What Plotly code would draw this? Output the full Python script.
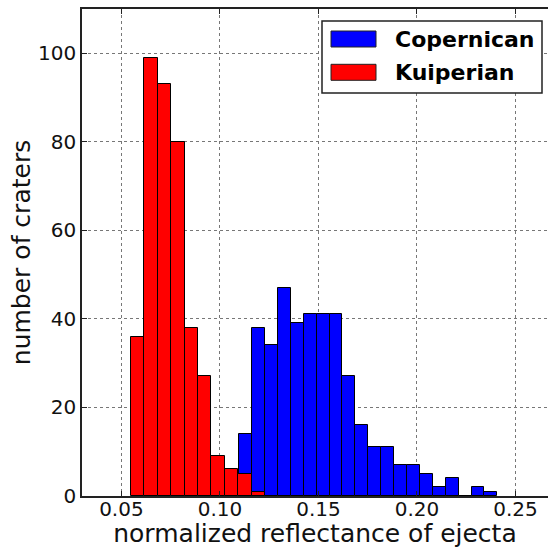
import numpy as np
import plotly.graph_objects as go

# Histogram counts per bin for each crater class
copernican_counts = [14, 38, 34, 47, 39, 41, 41, 41, 27, 16,
                     11, 11, 7, 7, 5, 2, 4, 0, 2, 1]
kuiperian_counts = [36, 99, 93, 80, 38, 27, 9, 6, 5, 1]

# Reflectance span covered by each histogram (equal-width bins)
copernican_range = [0.1098, 0.2408]
kuiperian_range = [0.0548, 0.1229]

x_ticks = [0.05, 0.10, 0.15, 0.20, 0.25]
y_ticks = [0, 20, 40, 60, 80, 100]

series_names = ["Copernican", "Kuiperian"]
series_colors = ["#0000ff", "#ff0000"]

FONT = "DejaVu Sans"


def bins(counts, span):
    edges = np.linspace(span[0], span[1], len(counts) + 1)
    return (edges[:-1] + edges[1:]) / 2, edges[1] - edges[0]


fig = go.Figure()
for name, counts, span, color in zip(series_names,
                                     [copernican_counts, kuiperian_counts],
                                     [copernican_range, kuiperian_range],
                                     series_colors):
    centers, width = bins(counts, span)
    fig.add_trace(go.Bar(
        x=centers, y=counts, width=width, name=name,
        marker=dict(color=color, line=dict(color="black", width=1)),
        opacity=1, showlegend=False,
    ))

W, H = 548, 548
ML, MR, MT, MB = 82, 0, 9, 52
PW, PH = W - ML - MR, H - MT - MB


def px(x):
    return (x - ML) / PW


def py(y):
    return (H - MB - y) / PH


# legend drawn as a framed box with colour patches
shapes = [dict(type="rect", xref="paper", yref="paper",
               x0=px(322), x1=px(542), y0=py(93), y1=py(21),
               line=dict(color="#222", width=1.5), fillcolor="white",
               layer="above")]
annotations = []
for i, (name, color) in enumerate(zip(series_names, series_colors)):
    top = 31 + i * 33.3
    shapes.append(dict(type="rect", xref="paper", yref="paper",
                       x0=px(331), x1=px(376), y0=py(top + 16), y1=py(top),
                       line=dict(color="#222", width=1), fillcolor=color,
                       layer="above"))
    annotations.append(dict(xref="paper", yref="paper", x=px(393),
                            y=py(top + 8), xanchor="left", yanchor="middle",
                            text="<b>%s</b>" % name, showarrow=False,
                            font=dict(family=FONT, size=22, color="black")))

axis_common = dict(
    showline=True, linecolor="#222", linewidth=1.5,
    ticks="inside", ticklen=5, tickwidth=1, tickcolor="#222",
    showgrid=True, gridcolor="#777", gridwidth=1, griddash="dot",
    zeroline=False, tickfont=dict(family=FONT, size=20, color="#111"),
)

fig.update_layout(
    width=W, height=H,
    margin=dict(l=ML, r=MR, t=MT, b=MB, autoexpand=False),
    paper_bgcolor="white", plot_bgcolor="white",
    barmode="overlay", bargap=0,
    shapes=shapes, annotations=annotations,
    xaxis=dict(axis_common, range=[0.03, 0.2665], tickvals=x_ticks,
               tickformat=".2f", mirror="ticks", ticklabelstandoff=-6,
               title=dict(text="normalized reflectance of ejecta",
                          font=dict(family=FONT, size=25, color="#111"),
                          standoff=6)),
    yaxis=dict(axis_common, range=[0, 110], tickvals=y_ticks, mirror=False,
               title=dict(text="number of craters",
                          font=dict(family=FONT, size=25, color="#111"),
                          standoff=0)),
)

fig.write_html("out.html")
